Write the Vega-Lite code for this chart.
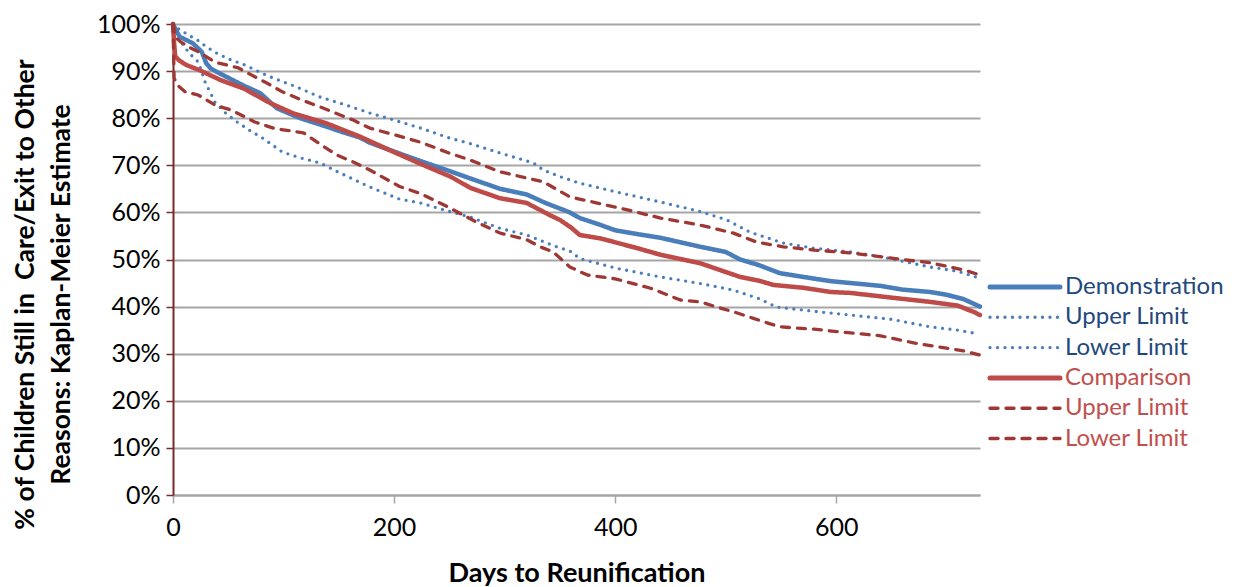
{
  "$schema": "https://vega.github.io/schema/vega-lite/v6.json",
  "width": 807,
  "height": 471,
  "autosize": {"type": "none"},
  "padding": {"left": 173, "top": 24, "right": 259, "bottom": 92},
  "background": "white",
  "config": {
    "view": {"stroke": null},
    "font": "Lato",
    "axis": {"labelFont": "Lato", "titleFont": "Lato"},
    "legend": {"labelFont": "Lato"}
  },
  "data": {
    "values": [
      {"series": "Demonstration", "day": 0, "pct": 100},
      {"series": "Demonstration", "day": 2, "pct": 99},
      {"series": "Demonstration", "day": 6, "pct": 97.3},
      {"series": "Demonstration", "day": 12, "pct": 96.6},
      {"series": "Demonstration", "day": 18, "pct": 95.9},
      {"series": "Demonstration", "day": 26, "pct": 94.1},
      {"series": "Demonstration", "day": 30, "pct": 91.7},
      {"series": "Demonstration", "day": 34, "pct": 90.6},
      {"series": "Demonstration", "day": 39, "pct": 89.9},
      {"series": "Demonstration", "day": 54, "pct": 88.1},
      {"series": "Demonstration", "day": 65, "pct": 86.8},
      {"series": "Demonstration", "day": 79, "pct": 85.3},
      {"series": "Demonstration", "day": 94, "pct": 82.1},
      {"series": "Demonstration", "day": 115, "pct": 80.0},
      {"series": "Demonstration", "day": 139, "pct": 78.2},
      {"series": "Demonstration", "day": 150, "pct": 77.3},
      {"series": "Demonstration", "day": 169, "pct": 75.9},
      {"series": "Demonstration", "day": 178, "pct": 74.8},
      {"series": "Demonstration", "day": 199, "pct": 73.0},
      {"series": "Demonstration", "day": 224, "pct": 70.9},
      {"series": "Demonstration", "day": 250, "pct": 68.8},
      {"series": "Demonstration", "day": 269, "pct": 67.2},
      {"series": "Demonstration", "day": 296, "pct": 65.0},
      {"series": "Demonstration", "day": 320, "pct": 63.8},
      {"series": "Demonstration", "day": 337, "pct": 62.0},
      {"series": "Demonstration", "day": 359, "pct": 60.0},
      {"series": "Demonstration", "day": 368, "pct": 58.8},
      {"series": "Demonstration", "day": 386, "pct": 57.4},
      {"series": "Demonstration", "day": 400, "pct": 56.2},
      {"series": "Demonstration", "day": 420, "pct": 55.4},
      {"series": "Demonstration", "day": 441, "pct": 54.6},
      {"series": "Demonstration", "day": 477, "pct": 52.7},
      {"series": "Demonstration", "day": 500, "pct": 51.6},
      {"series": "Demonstration", "day": 513, "pct": 50.0},
      {"series": "Demonstration", "day": 530, "pct": 48.8},
      {"series": "Demonstration", "day": 549, "pct": 47.1},
      {"series": "Demonstration", "day": 570, "pct": 46.3},
      {"series": "Demonstration", "day": 595, "pct": 45.4},
      {"series": "Demonstration", "day": 613, "pct": 45.0},
      {"series": "Demonstration", "day": 640, "pct": 44.4},
      {"series": "Demonstration", "day": 660, "pct": 43.6},
      {"series": "Demonstration", "day": 685, "pct": 43.1},
      {"series": "Demonstration", "day": 700, "pct": 42.5},
      {"series": "Demonstration", "day": 715, "pct": 41.6},
      {"series": "Demonstration", "day": 730, "pct": 40.0},

      {"series": "Demonstration Upper Limit", "day": 0, "pct": 100},
      {"series": "Demonstration Upper Limit", "day": 3, "pct": 99.3},
      {"series": "Demonstration Upper Limit", "day": 7, "pct": 98.7},
      {"series": "Demonstration Upper Limit", "day": 15, "pct": 97.5},
      {"series": "Demonstration Upper Limit", "day": 22, "pct": 96.6},
      {"series": "Demonstration Upper Limit", "day": 30, "pct": 95.2},
      {"series": "Demonstration Upper Limit", "day": 38, "pct": 94.0},
      {"series": "Demonstration Upper Limit", "day": 50, "pct": 92.6},
      {"series": "Demonstration Upper Limit", "day": 65, "pct": 91.3},
      {"series": "Demonstration Upper Limit", "day": 80, "pct": 89.6},
      {"series": "Demonstration Upper Limit", "day": 92, "pct": 88.4},
      {"series": "Demonstration Upper Limit", "day": 110, "pct": 86.8},
      {"series": "Demonstration Upper Limit", "day": 133, "pct": 84.5},
      {"series": "Demonstration Upper Limit", "day": 155, "pct": 82.9},
      {"series": "Demonstration Upper Limit", "day": 178, "pct": 81.1},
      {"series": "Demonstration Upper Limit", "day": 200, "pct": 79.6},
      {"series": "Demonstration Upper Limit", "day": 224, "pct": 77.9},
      {"series": "Demonstration Upper Limit", "day": 250, "pct": 75.8},
      {"series": "Demonstration Upper Limit", "day": 269, "pct": 74.6},
      {"series": "Demonstration Upper Limit", "day": 296, "pct": 72.6},
      {"series": "Demonstration Upper Limit", "day": 326, "pct": 70.5},
      {"series": "Demonstration Upper Limit", "day": 335, "pct": 69.0},
      {"series": "Demonstration Upper Limit", "day": 350, "pct": 67.6},
      {"series": "Demonstration Upper Limit", "day": 368, "pct": 66.2},
      {"series": "Demonstration Upper Limit", "day": 400, "pct": 64.4},
      {"series": "Demonstration Upper Limit", "day": 441, "pct": 62.2},
      {"series": "Demonstration Upper Limit", "day": 477, "pct": 60.2},
      {"series": "Demonstration Upper Limit", "day": 501, "pct": 58.4},
      {"series": "Demonstration Upper Limit", "day": 522, "pct": 55.8},
      {"series": "Demonstration Upper Limit", "day": 552, "pct": 53.5},
      {"series": "Demonstration Upper Limit", "day": 580, "pct": 52.4},
      {"series": "Demonstration Upper Limit", "day": 613, "pct": 51.6},
      {"series": "Demonstration Upper Limit", "day": 640, "pct": 50.6},
      {"series": "Demonstration Upper Limit", "day": 685, "pct": 48.4},
      {"series": "Demonstration Upper Limit", "day": 710, "pct": 47.5},
      {"series": "Demonstration Upper Limit", "day": 726, "pct": 46.3},

      {"series": "Demonstration Lower Limit", "day": 0, "pct": 100},
      {"series": "Demonstration Lower Limit", "day": 3, "pct": 99.2},
      {"series": "Demonstration Lower Limit", "day": 9, "pct": 95.5},
      {"series": "Demonstration Lower Limit", "day": 16, "pct": 93.5},
      {"series": "Demonstration Lower Limit", "day": 23, "pct": 91.9},
      {"series": "Demonstration Lower Limit", "day": 29, "pct": 87.7},
      {"series": "Demonstration Lower Limit", "day": 38, "pct": 83.4},
      {"series": "Demonstration Lower Limit", "day": 48, "pct": 81.0},
      {"series": "Demonstration Lower Limit", "day": 58, "pct": 79.2},
      {"series": "Demonstration Lower Limit", "day": 70, "pct": 77.3},
      {"series": "Demonstration Lower Limit", "day": 81, "pct": 75.8},
      {"series": "Demonstration Lower Limit", "day": 99, "pct": 72.8},
      {"series": "Demonstration Lower Limit", "day": 115, "pct": 71.6},
      {"series": "Demonstration Lower Limit", "day": 133, "pct": 70.5},
      {"series": "Demonstration Lower Limit", "day": 150, "pct": 68.5},
      {"series": "Demonstration Lower Limit", "day": 178, "pct": 65.4},
      {"series": "Demonstration Lower Limit", "day": 205, "pct": 62.8},
      {"series": "Demonstration Lower Limit", "day": 224, "pct": 62.0},
      {"series": "Demonstration Lower Limit", "day": 250, "pct": 60.2},
      {"series": "Demonstration Lower Limit", "day": 269, "pct": 59.0},
      {"series": "Demonstration Lower Limit", "day": 296, "pct": 56.6},
      {"series": "Demonstration Lower Limit", "day": 320, "pct": 55.2},
      {"series": "Demonstration Lower Limit", "day": 347, "pct": 52.7},
      {"series": "Demonstration Lower Limit", "day": 359, "pct": 51.8},
      {"series": "Demonstration Lower Limit", "day": 368, "pct": 50.2},
      {"series": "Demonstration Lower Limit", "day": 400, "pct": 48.2},
      {"series": "Demonstration Lower Limit", "day": 441, "pct": 46.3},
      {"series": "Demonstration Lower Limit", "day": 477, "pct": 44.9},
      {"series": "Demonstration Lower Limit", "day": 507, "pct": 43.5},
      {"series": "Demonstration Lower Limit", "day": 530, "pct": 41.7},
      {"series": "Demonstration Lower Limit", "day": 546, "pct": 39.9},
      {"series": "Demonstration Lower Limit", "day": 580, "pct": 39.0},
      {"series": "Demonstration Lower Limit", "day": 613, "pct": 38.2},
      {"series": "Demonstration Lower Limit", "day": 650, "pct": 37.3},
      {"series": "Demonstration Lower Limit", "day": 685, "pct": 35.7},
      {"series": "Demonstration Lower Limit", "day": 710, "pct": 35.0},
      {"series": "Demonstration Lower Limit", "day": 724, "pct": 34.4},

      {"series": "Comparison", "day": 0, "pct": 100},
      {"series": "Comparison", "day": 1, "pct": 96},
      {"series": "Comparison", "day": 2, "pct": 93.1},
      {"series": "Comparison", "day": 6, "pct": 92.2},
      {"series": "Comparison", "day": 12, "pct": 91.3},
      {"series": "Comparison", "day": 24, "pct": 90.2},
      {"series": "Comparison", "day": 43, "pct": 88.1},
      {"series": "Comparison", "day": 64, "pct": 86.3},
      {"series": "Comparison", "day": 88, "pct": 83.2},
      {"series": "Comparison", "day": 109, "pct": 81.0},
      {"series": "Comparison", "day": 139, "pct": 78.9},
      {"series": "Comparison", "day": 169, "pct": 76.1},
      {"series": "Comparison", "day": 199, "pct": 72.9},
      {"series": "Comparison", "day": 224, "pct": 70.3},
      {"series": "Comparison", "day": 251, "pct": 67.6},
      {"series": "Comparison", "day": 269, "pct": 65.2},
      {"series": "Comparison", "day": 296, "pct": 63.0},
      {"series": "Comparison", "day": 320, "pct": 62.0},
      {"series": "Comparison", "day": 341, "pct": 59.4},
      {"series": "Comparison", "day": 350, "pct": 58.4},
      {"series": "Comparison", "day": 360, "pct": 56.8},
      {"series": "Comparison", "day": 368, "pct": 55.2},
      {"series": "Comparison", "day": 386, "pct": 54.5},
      {"series": "Comparison", "day": 417, "pct": 52.6},
      {"series": "Comparison", "day": 441, "pct": 51.0},
      {"series": "Comparison", "day": 477, "pct": 49.2},
      {"series": "Comparison", "day": 513, "pct": 46.3},
      {"series": "Comparison", "day": 530, "pct": 45.5},
      {"series": "Comparison", "day": 543, "pct": 44.6},
      {"series": "Comparison", "day": 570, "pct": 44.0},
      {"series": "Comparison", "day": 595, "pct": 43.1},
      {"series": "Comparison", "day": 613, "pct": 42.9},
      {"series": "Comparison", "day": 650, "pct": 41.9},
      {"series": "Comparison", "day": 685, "pct": 41.0},
      {"series": "Comparison", "day": 710, "pct": 40.2},
      {"series": "Comparison", "day": 725, "pct": 38.8},
      {"series": "Comparison", "day": 730, "pct": 38.2},

      {"series": "Comparison Upper Limit", "day": 0, "pct": 100},
      {"series": "Comparison Upper Limit", "day": 3, "pct": 97.0},
      {"series": "Comparison Upper Limit", "day": 7, "pct": 96.2},
      {"series": "Comparison Upper Limit", "day": 15, "pct": 95.0},
      {"series": "Comparison Upper Limit", "day": 23, "pct": 94.1},
      {"series": "Comparison Upper Limit", "day": 38, "pct": 91.9},
      {"series": "Comparison Upper Limit", "day": 59, "pct": 90.7},
      {"series": "Comparison Upper Limit", "day": 70, "pct": 89.3},
      {"series": "Comparison Upper Limit", "day": 83, "pct": 87.7},
      {"series": "Comparison Upper Limit", "day": 99, "pct": 85.6},
      {"series": "Comparison Upper Limit", "day": 115, "pct": 84.0},
      {"series": "Comparison Upper Limit", "day": 133, "pct": 82.4},
      {"series": "Comparison Upper Limit", "day": 163, "pct": 79.6},
      {"series": "Comparison Upper Limit", "day": 178, "pct": 77.9},
      {"series": "Comparison Upper Limit", "day": 200, "pct": 76.5},
      {"series": "Comparison Upper Limit", "day": 224, "pct": 74.9},
      {"series": "Comparison Upper Limit", "day": 251, "pct": 72.5},
      {"series": "Comparison Upper Limit", "day": 269, "pct": 71.1},
      {"series": "Comparison Upper Limit", "day": 296, "pct": 68.6},
      {"series": "Comparison Upper Limit", "day": 335, "pct": 66.5},
      {"series": "Comparison Upper Limit", "day": 359, "pct": 63.3},
      {"series": "Comparison Upper Limit", "day": 380, "pct": 62.2},
      {"series": "Comparison Upper Limit", "day": 417, "pct": 60.2},
      {"series": "Comparison Upper Limit", "day": 441, "pct": 58.8},
      {"series": "Comparison Upper Limit", "day": 477, "pct": 57.3},
      {"series": "Comparison Upper Limit", "day": 507, "pct": 55.6},
      {"series": "Comparison Upper Limit", "day": 528, "pct": 53.7},
      {"series": "Comparison Upper Limit", "day": 552, "pct": 52.7},
      {"series": "Comparison Upper Limit", "day": 580, "pct": 52.0},
      {"series": "Comparison Upper Limit", "day": 613, "pct": 51.4},
      {"series": "Comparison Upper Limit", "day": 650, "pct": 50.3},
      {"series": "Comparison Upper Limit", "day": 685, "pct": 49.3},
      {"series": "Comparison Upper Limit", "day": 715, "pct": 47.8},
      {"series": "Comparison Upper Limit", "day": 730, "pct": 46.7},

      {"series": "Comparison Lower Limit", "day": 0, "pct": 100},
      {"series": "Comparison Lower Limit", "day": 1, "pct": 88.5},
      {"series": "Comparison Lower Limit", "day": 4, "pct": 87.0},
      {"series": "Comparison Lower Limit", "day": 11, "pct": 85.6},
      {"series": "Comparison Lower Limit", "day": 23, "pct": 84.9},
      {"series": "Comparison Lower Limit", "day": 38, "pct": 82.8},
      {"series": "Comparison Lower Limit", "day": 53, "pct": 81.7},
      {"series": "Comparison Lower Limit", "day": 74, "pct": 79.2},
      {"series": "Comparison Lower Limit", "day": 92, "pct": 77.8},
      {"series": "Comparison Lower Limit", "day": 118, "pct": 76.9},
      {"series": "Comparison Lower Limit", "day": 133, "pct": 74.5},
      {"series": "Comparison Lower Limit", "day": 148, "pct": 72.2},
      {"series": "Comparison Lower Limit", "day": 163, "pct": 70.7},
      {"series": "Comparison Lower Limit", "day": 178, "pct": 69.0},
      {"series": "Comparison Lower Limit", "day": 205, "pct": 65.5},
      {"series": "Comparison Lower Limit", "day": 224, "pct": 64.0},
      {"series": "Comparison Lower Limit", "day": 250, "pct": 61.0},
      {"series": "Comparison Lower Limit", "day": 274, "pct": 58.0},
      {"series": "Comparison Lower Limit", "day": 296, "pct": 55.6},
      {"series": "Comparison Lower Limit", "day": 320, "pct": 54.2},
      {"series": "Comparison Lower Limit", "day": 332, "pct": 52.7},
      {"series": "Comparison Lower Limit", "day": 344, "pct": 51.6},
      {"series": "Comparison Lower Limit", "day": 359, "pct": 48.4},
      {"series": "Comparison Lower Limit", "day": 375, "pct": 46.7},
      {"series": "Comparison Lower Limit", "day": 400, "pct": 45.9},
      {"series": "Comparison Lower Limit", "day": 432, "pct": 43.9},
      {"series": "Comparison Lower Limit", "day": 459, "pct": 41.4},
      {"series": "Comparison Lower Limit", "day": 477, "pct": 41.0},
      {"series": "Comparison Lower Limit", "day": 492, "pct": 39.9},
      {"series": "Comparison Lower Limit", "day": 507, "pct": 38.9},
      {"series": "Comparison Lower Limit", "day": 525, "pct": 37.5},
      {"series": "Comparison Lower Limit", "day": 538, "pct": 36.5},
      {"series": "Comparison Lower Limit", "day": 549, "pct": 35.7},
      {"series": "Comparison Lower Limit", "day": 580, "pct": 35.2},
      {"series": "Comparison Lower Limit", "day": 613, "pct": 34.4},
      {"series": "Comparison Lower Limit", "day": 640, "pct": 33.8},
      {"series": "Comparison Lower Limit", "day": 670, "pct": 32.3},
      {"series": "Comparison Lower Limit", "day": 694, "pct": 31.4},
      {"series": "Comparison Lower Limit", "day": 715, "pct": 30.6},
      {"series": "Comparison Lower Limit", "day": 730, "pct": 29.7}
    ]
  },
  "mark": {"type": "line", "strokeCap": "round", "strokeJoin": "round"},
  "encoding": {
    "x": {
      "field": "day",
      "type": "quantitative",
      "scale": {"domain": [0, 730], "nice": false, "zero": true},
      "axis": {
        "title": "Days to Reunification",
        "values": [0, 200, 400, 600],
        "grid": false,
        "domainColor": "#A6A6A6",
        "domainWidth": 2,
        "tickColor": "#A6A6A6",
        "tickWidth": 1.5,
        "tickSize": 8,
        "labelFontSize": 25,
        "labelColor": "#000000",
        "labelPadding": 12,
        "labelFlush": false,
        "titleFontSize": 27,
        "titleFontWeight": "bold",
        "titleColor": "#000000",
        "titlePadding": 20
      }
    },
    "y": {
      "field": "pct",
      "type": "quantitative",
      "scale": {"domain": [0, 100], "nice": false},
      "axis": {
        "title": ["% of Children Still in\u00a0 Care/Exit to Other", "Reasons: Kaplan-Meier Estimate"],
        "values": [0, 10, 20, 30, 40, 50, 60, 70, 80, 90, 100],
        "labelExpr": "datum.value + '%'",
        "grid": true,
        "gridColor": "#A6A6A6",
        "gridWidth": 2,
        "domainColor": "#7B2A2A",
        "domainWidth": 2,
        "tickColor": "#7B2A2A",
        "tickWidth": 1.5,
        "tickSize": 7,
        "labelFontSize": 25,
        "labelColor": "#000000",
        "labelPadding": 6,
        "titleFontSize": 26.5,
        "titleFontWeight": "bold",
        "titleColor": "#000000",
        "titleAngle": 270,
        "titleAlign": "center",
        "titleBaseline": "top",
        "titleLineHeight": 36,
        "titleX": -161,
        "titleY": 270
      }
    },
    "color": {
      "field": "series",
      "type": "nominal",
      "scale": {
        "domain": ["Demonstration", "Demonstration Upper Limit", "Demonstration Lower Limit", "Comparison", "Comparison Upper Limit", "Comparison Lower Limit"],
        "range": ["#4A7EBB", "#4A7EBB", "#4A7EBB", "#BE4B48", "#9E3835", "#9E3835"]
      },
      "legend": {
        "title": null,
        "orient": "none",
        "legendX": 840,
        "legendY": 251,
        "padding": 0,
        "symbolType": "M-5,0H5",
        "symbolSize": 196,
        "labelOffset": 28,
        "labelFontSize": 24,
        "rowPadding": 6.3,
        "labelLimit": 300,
        "labelExpr": "replace(replace(datum.label, 'Demonstration ', ''), 'Comparison ', '')",
        "encode": {
          "symbols": {
            "update": {
              "strokeCap": {"value": "round"},
              "strokeWidth": {"signal": "datum.value == 'Demonstration' || datum.value == 'Comparison' ? 5 : 3.4"}
            }
          },
          "labels": {
            "update": {
              "fill": {"signal": "indexof(datum.value, 'Demonstration') == 0 ? '#1F497D' : '#C0504D'"}
            }
          }
        }
      }
    },
    "strokeDash": {
      "field": "series",
      "type": "nominal",
      "scale": {
        "domain": ["Demonstration", "Demonstration Upper Limit", "Demonstration Lower Limit", "Comparison", "Comparison Upper Limit", "Comparison Lower Limit"],
        "range": [[1, 0], [0, 7.5], [0, 7.5], [1, 0], [8, 8], [8, 8]]
      }
    },
    "strokeWidth": {
      "condition": {"test": "datum.series == 'Demonstration' || datum.series == 'Comparison'", "value": 4.5},
      "value": 3.3
    }
  }
}
